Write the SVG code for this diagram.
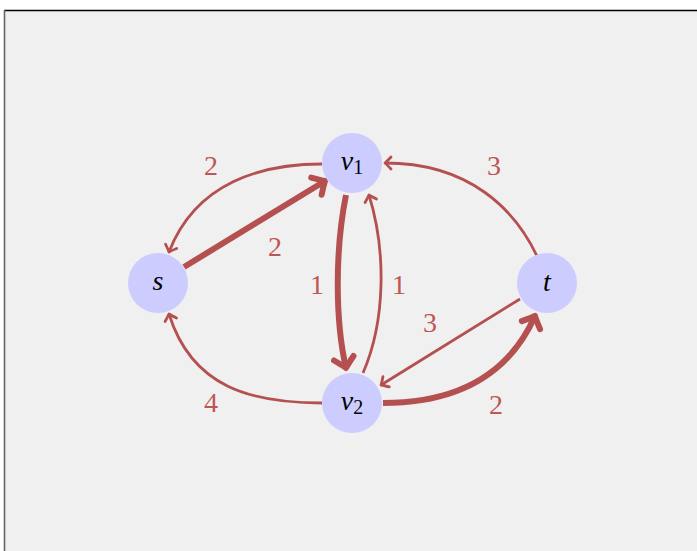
<svg xmlns="http://www.w3.org/2000/svg" width="697" height="551" viewBox="0 0 697 551">
<defs>
<style>
.e{fill:none;stroke:#b55050;stroke-linecap:butt}
.thin{stroke-width:2.8;marker-end:url(#aThin)}
.thick{stroke-width:6;marker-end:url(#aThick)}
.node circle{fill:#ccccff}
</style>
<marker id="aThin" markerUnits="userSpaceOnUse" orient="auto" overflow="visible" markerWidth="1" markerHeight="1" refX="0" refY="0">
<path d="M-6,-6 Q-1.5,-1.2 0,0 Q-1.5,1.2 -6,6" fill="none" stroke="#b55050" stroke-width="2.8" stroke-linecap="round" stroke-linejoin="round"/>
</marker>
<marker id="aThick" markerUnits="userSpaceOnUse" orient="auto" overflow="visible" markerWidth="1" markerHeight="1" refX="0" refY="0">
<path d="M-10,-10 Q-2.5,-2 0,0 Q-2.5,2 -10,10" fill="none" stroke="#b55050" stroke-width="6" stroke-linecap="round" stroke-linejoin="round"/>
</marker>
</defs>
<rect x="0" y="0" width="697" height="551" fill="#ffffff"/>
<rect x="4" y="10" width="700" height="560" fill="#f0f0f0"/>
<line x1="4" y1="10.5" x2="697" y2="10.5" stroke="#000" stroke-width="1.5"/>
<line x1="4.5" y1="10" x2="4.5" y2="551" stroke="#666" stroke-width="1.6"/>
<g id="connectors">
<path class="e thin" d="M322,164 C262,164 196,182 169,252"/>
<path class="e thick" d="M184,267 L325,181"/>
<path class="e thick" d="M346,195 C335,250 335,320 346,368"/>
<path class="e thin" d="M363,373 C386,320 386,250 369,195"/>
<path class="e thin" d="M537,256 C515,210 470,163 385,163"/>
<path class="e thin" d="M322,403 C252,403 192,388 169,314"/>
<path class="e thin" d="M520,299 L381,385"/>
<path class="e thick" d="M383,403 C460,403 510,372 535,316"/>
</g>
<g id="labels" font-family="'Liberation Serif', 'Times New Roman', serif" font-size="28" fill="#c05555" text-anchor="middle">
<text x="211" y="175">2</text>
<text x="275" y="256">2</text>
<text x="317" y="294">1</text>
<text x="399" y="294">1</text>
<text x="494" y="175">3</text>
<text x="430" y="332">3</text>
<text x="211" y="412">4</text>
<text x="496" y="414">2</text>
</g>
<g font-family="'Liberation Serif', 'Times New Roman', serif" font-size="28" fill="#000" text-anchor="middle">
<g id="s" class="node"><circle cx="158" cy="283" r="30"/><text x="158" y="290" font-style="italic">s</text></g>
<g id="v1" class="node"><circle cx="352" cy="163" r="30"/><text x="352" y="170"><tspan font-style="italic">v</tspan><tspan font-size="20" dy="4">1</tspan></text></g>
<g id="v2" class="node"><circle cx="352" cy="403" r="30"/><text x="352" y="410"><tspan font-style="italic">v</tspan><tspan font-size="20" dy="4">2</tspan></text></g>
<g id="t" class="node"><circle cx="547" cy="283" r="30"/><text x="547" y="291" font-style="italic">t</text></g>
</g>
</svg>
